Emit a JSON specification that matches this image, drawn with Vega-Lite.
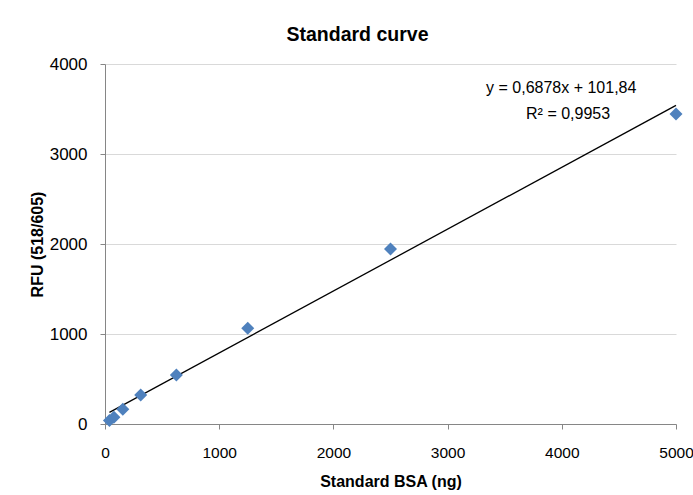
{
  "$schema": "https://vega.github.io/schema/vega-lite/v6.json",
  "width": 571,
  "height": 360,
  "autosize": {"type": "none"},
  "padding": {"left": 105, "top": 64, "right": 17, "bottom": 71},
  "background": "white",
  "title": {
    "text": "Standard curve",
    "font": "Liberation Sans",
    "fontSize": 19.5,
    "fontWeight": "bold",
    "color": "#000000",
    "anchor": "middle",
    "dx": -33,
    "offset": 10
  },
  "datasets": {
    "points": [
      {"bsa": 39, "rfu": 40},
      {"bsa": 78, "rfu": 75},
      {"bsa": 156, "rfu": 165},
      {"bsa": 312.5, "rfu": 322},
      {"bsa": 625, "rfu": 545},
      {"bsa": 1250, "rfu": 1065},
      {"bsa": 2500, "rfu": 1945},
      {"bsa": 5000, "rfu": 3445}
    ],
    "trend": [
      {"bsa": 39, "rfu": 128.66},
      {"bsa": 5000, "rfu": 3540.84}
    ],
    "labels": [
      {"bsa": 3995, "rfu": 3730, "label": "y = 0,6878x + 101,84"},
      {"bsa": 4055, "rfu": 3450, "label": "R² = 0,9953"}
    ]
  },
  "layer": [
    {
      "data": {"name": "trend"},
      "mark": {"type": "line", "color": "#000000", "strokeWidth": 1.3},
      "encoding": {
        "x": {
          "field": "bsa", "type": "quantitative",
          "scale": {"domain": [0, 5000], "nice": false},
          "axis": {
            "title": "Standard BSA (ng)",
            "titleFont": "Liberation Sans", "titleFontSize": 16, "titleFontWeight": "bold", "titleColor": "#000000",
            "titlePadding": 13,
            "values": [0, 1000, 2000, 3000, 4000, 5000],
            "format": "d",
            "labelFont": "Liberation Sans", "labelFontSize": 15.5, "labelColor": "#000000",
            "labelPadding": 16,
            "grid": false,
            "domainColor": "#868686", "tickColor": "#868686", "tickSize": 5,
            "labelFlush": false
          }
        },
        "y": {
          "field": "rfu", "type": "quantitative",
          "scale": {"domain": [0, 4000], "nice": false},
          "axis": {
            "title": "RFU (518/605)",
            "titleFont": "Liberation Sans", "titleFontSize": 16, "titleFontWeight": "bold", "titleColor": "#000000",
            "titlePadding": 4,
            "values": [0, 1000, 2000, 3000, 4000],
            "format": "d",
            "labelFont": "Liberation Sans", "labelFontSize": 17, "labelColor": "#000000",
            "labelPadding": 13,
            "grid": true, "gridColor": "#D9D9D9", "gridWidth": 1,
            "domainColor": "#868686", "tickColor": "#868686", "tickSize": 5
          }
        }
      }
    },
    {
      "data": {"name": "points"},
      "mark": {"type": "point", "shape": "diamond", "filled": true, "color": "#4F81BD", "opacity": 1, "size": 170},
      "encoding": {
        "x": {"field": "bsa", "type": "quantitative"},
        "y": {"field": "rfu", "type": "quantitative"}
      }
    },
    {
      "data": {"name": "labels"},
      "mark": {"type": "text", "font": "Liberation Sans", "fontSize": 16, "color": "#000000", "align": "center", "baseline": "middle"},
      "encoding": {
        "x": {"field": "bsa", "type": "quantitative"},
        "y": {"field": "rfu", "type": "quantitative"},
        "text": {"field": "label"}
      }
    }
  ],
  "config": {"view": {"stroke": null}}
}
